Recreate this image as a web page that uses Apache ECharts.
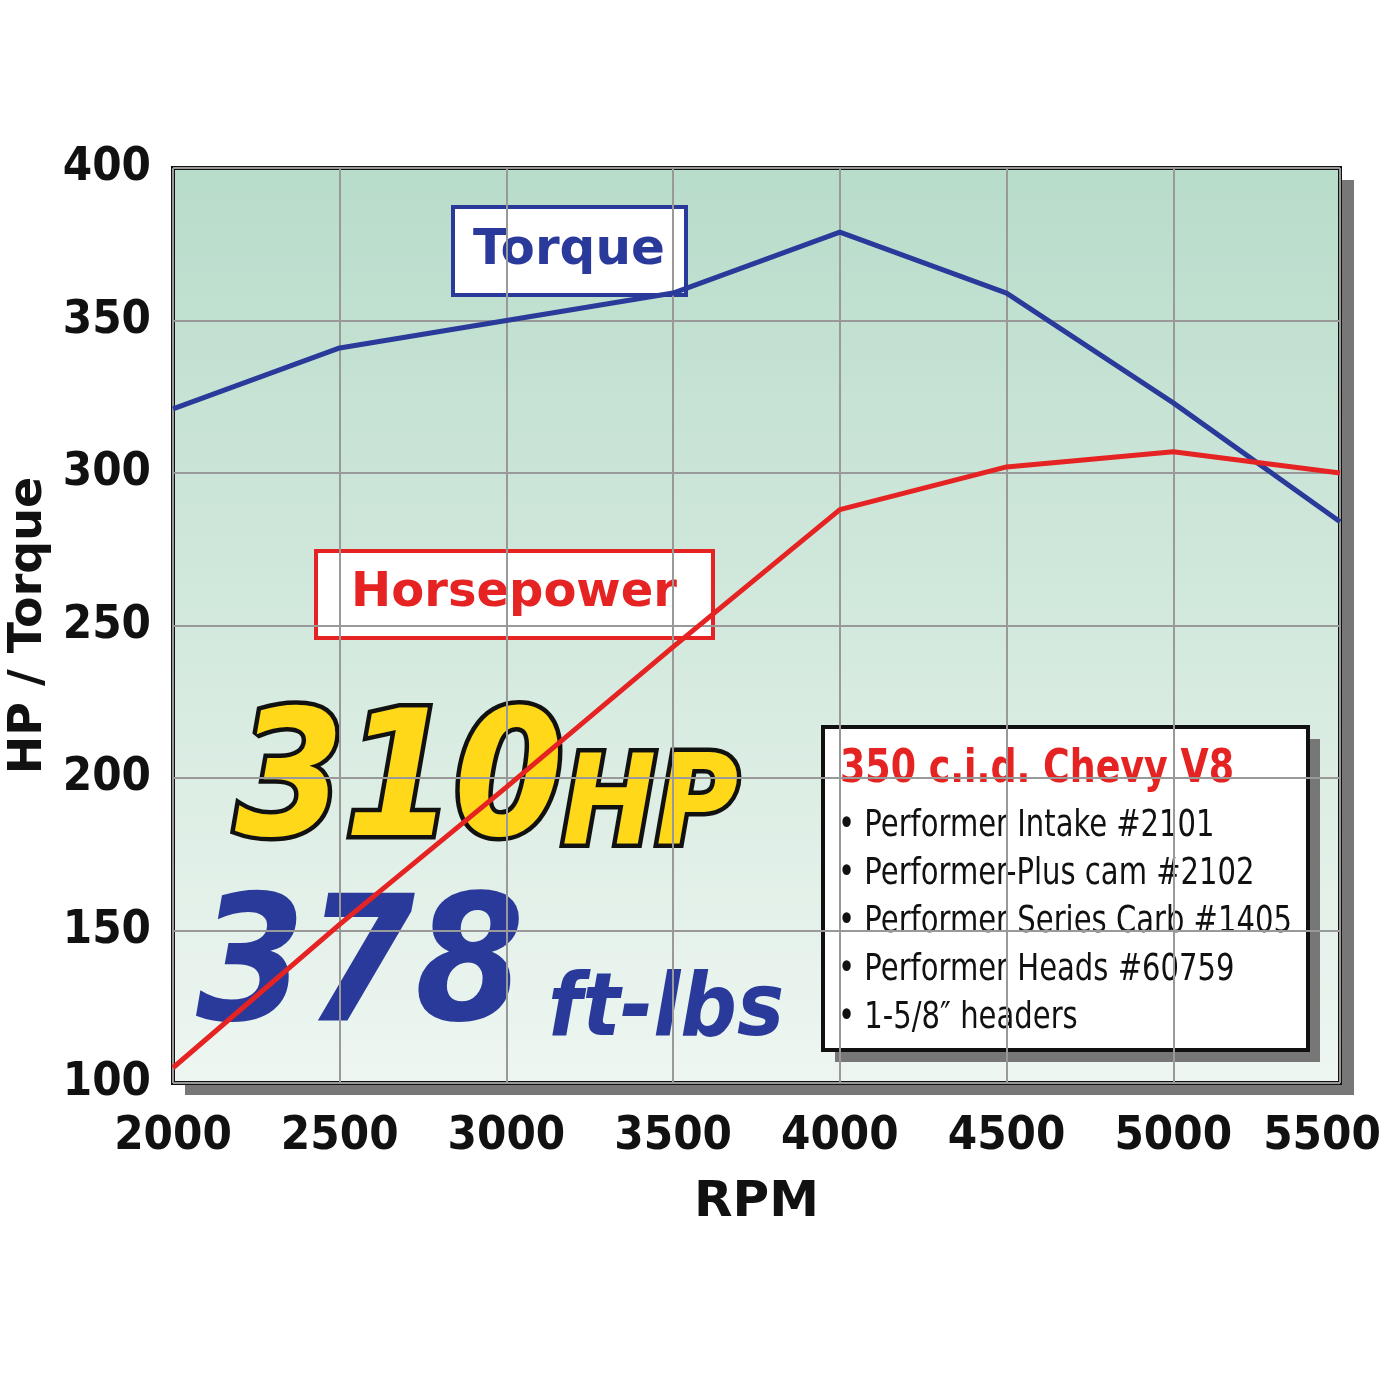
<!DOCTYPE html>
<html>
<head>
<meta charset="UTF-8">
<style>html,body{margin:0;padding:0;background:#fff}#main{width:1384px;height:1384px}</style>
<script src="https://cdn.jsdelivr.net/npm/echarts@6/dist/echarts.min.js"></script>
</head>
<body>
<div id="main"></div>
<script>
// data
var rpm = [2000, 2500, 3000, 3500, 4000, 4500, 5000, 5500];
var torque = [321, 341, 350, 359, 379, 359, 323, 284];
var horsepower = [105, 152, 197, 243, 288, 302, 307, 300];
var specLines = ['• Performer Intake #2101', '• Performer-Plus cam #2102', '• Performer Series Carb #1405', '• Performer Heads #60759', '• 1-5/8\u2033 headers'];

var chart = echarts.init(document.getElementById('main'));
var narrow = "'DejaVu Sans Condensed', sans-serif";
var tickFont = {fontFamily: narrow, fontWeight: 'bold', fontSize: 47, color: '#111'};
chart.setOption({
    animation: false,
    grid: {left: 173, top: 168, right: 44, bottom: 301, outerBoundsMode: 'none', containLabel: false,
        show: true, borderColor: '#111', borderWidth: 4,
        backgroundColor: new echarts.graphic.LinearGradient(0, 0, 0, 1, [{offset: 0, color: '#b8dcca'}, {offset: 1, color: '#eef6f1'}])},
    xAxis: {type: 'value', min: 2000, max: 5500, interval: 500,
        name: 'RPM', nameLocation: 'middle', nameGap: 95,
        nameTextStyle: {fontFamily: 'DejaVu Sans', fontWeight: 'bold', fontSize: 50, color: '#111'},
        axisLine: {show: false}, axisTick: {show: false},
        axisLabel: Object.assign({margin: 30, showMaxLabel: true, hideOverlap: false,
            formatter: function (v) { return v === 5500 ? '{r|' + v + '}' : String(v); },
            rich: {r: {fontFamily: narrow, fontWeight: 'bold', fontSize: 47, color: '#111', padding: [0, 36, 0, 0]}}}, tickFont),
        splitLine: {lineStyle: {color: '#999', width: 2}}},
    yAxis: {type: 'value', min: 100, max: 400, interval: 50,
        name: 'HP / Torque', nameLocation: 'middle', nameGap: 120,
        nameTextStyle: {fontFamily: 'DejaVu Sans', fontWeight: 'bold', fontSize: 46, color: '#111'},
        axisLine: {show: false}, axisTick: {show: false},
        axisLabel: Object.assign({margin: 22}, tickFont),
        splitLine: {lineStyle: {color: '#999', width: 2}}},
    series: [
        {type: 'line', data: rpm.map(function (r, i) { return [r, torque[i]]; }), showSymbol: false,
            lineStyle: {color: '#2a3a9a', width: 5}},
        {type: 'line', data: rpm.map(function (r, i) { return [r, horsepower[i]]; }), showSymbol: false,
            lineStyle: {color: '#e52323', width: 5}}
    ],
    graphic: [
        {type: 'rect', z: -10, silent: true, shape: {x: 185, y: 180, width: 1169, height: 915}, style: {fill: '#777'}},
        {type: 'rect', shape: {x: 453, y: 207, width: 233, height: 88}, style: {fill: '#fff', stroke: '#2a3a9a', lineWidth: 4}},
        {type: 'text', x: 569, y: 251, style: {text: 'Torque', fill: '#2a3a9a', font: 'bold 50px DejaVu Sans', align: 'center', verticalAlign: 'middle'}},
        {type: 'rect', shape: {x: 316, y: 551, width: 397, height: 87}, style: {fill: '#fff', stroke: '#e52323', lineWidth: 4}},
        {type: 'text', x: 514, y: 594, style: {text: 'Horsepower', fill: '#e52323', font: 'bold 48px DejaVu Sans', align: 'center', verticalAlign: 'middle'}},
        {type: 'text', x: 235, y: 790, style: {text: '310', font: 'italic bold 175px DejaVu Sans Condensed', verticalAlign: 'middle',
            fill: '#ffd81a', stroke: '#111', lineWidth: 9}},
        {type: 'text', x: 562, y: 812, style: {text: 'HP', font: 'italic bold 125px DejaVu Sans Condensed', verticalAlign: 'middle',
            fill: '#ffd81a', stroke: '#111', lineWidth: 9}},
        {type: 'text', x: 196, y: 975, style: {text: '378', font: 'italic bold 175px DejaVu Sans Condensed', verticalAlign: 'middle', fill: '#2a3a9a'}},
        {type: 'text', x: 548, y: 1012, style: {text: 'ft-lbs', font: 'italic bold 88px DejaVu Sans Condensed', verticalAlign: 'middle', fill: '#2a3a9a'}},
        {type: 'rect', shape: {x: 835, y: 739, width: 485, height: 323}, style: {fill: '#777'}},
        {type: 'rect', shape: {x: 823, y: 727, width: 485, height: 323}, style: {fill: '#fff', stroke: '#111', lineWidth: 4}},
        {type: 'text', x: 840, y: 770, scaleX: 0.88, style: {text: '350 c.i.d. Chevy V8', fill: '#e52323', font: "bold 46px " + narrow, verticalAlign: 'middle'}},
        {type: 'group', children: specLines.map(function (t, i) {
            return {type: 'text', x: 838, y: 826 + i * 48, scaleX: 0.85, style: {text: t, fill: '#111', font: "38px " + narrow, verticalAlign: 'middle'}};
        })}
    ]
});
</script>
</body>
</html>
